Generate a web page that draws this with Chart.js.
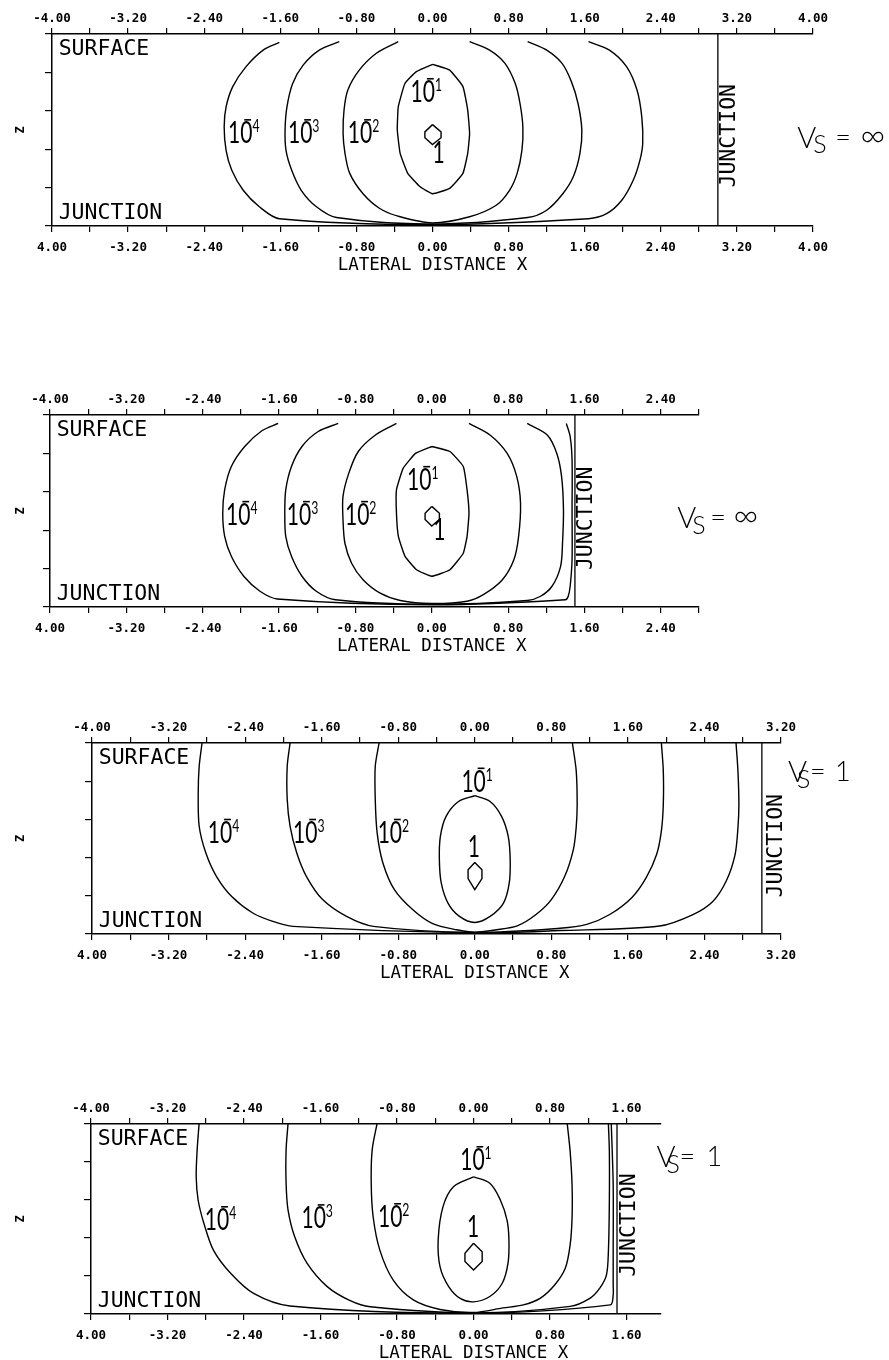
<!DOCTYPE html>
<html>
<head>
<meta charset="utf-8">
<script src="https://cdn.jsdelivr.net/npm/chart.js@4.4.1/dist/chart.umd.min.js"></script>
<style>
    html, body { margin: 0; padding: 0; background: #fff; overflow: hidden; }
    body { width: 889px; height: 1360px; position: relative; }
    .panel { position: absolute; left: 0; width: 889px; }
</style>
</head>
<body>
<div class="panel" id="wrap1"><canvas id="c1"></canvas></div>
<div class="panel" id="wrap2"><canvas id="c2"></canvas></div>
<div class="panel" id="wrap3"><canvas id="c3"></canvas></div>
<div class="panel" id="wrap4"><canvas id="c4"></canvas></div>
<script>
// Tick labels (lateral distance X); the bottom scale prints "4.00" at the left end
const xLabelValues = [-4, -3.2, -2.4, -1.6, -0.8, 0, 0.8, 1.6, 2.4, 3.2, 4];
const topLabels = ['-4.00', '-3.20', '-2.40', '-1.60', '-0.80', '0.00', '0.80', '1.60', '2.40', '3.20', '4.00'];
const bottomLabels = ['4.00', '-3.20', '-2.40', '-1.60', '-0.80', '0.00', '0.80', '1.60', '2.40', '3.20', '4.00'];

// x ranges of the four panels and junction position
const xMax = [4, 2.8, 3.2, 1.96];
const junctionX = [3.0, 1.5, 3.0, 1.5];
const vsText = ['= \u221E', '= \u221E', '= 1', '= 1'];

// Contours [x, z]  (z = 0 at surface, 5 at junction)
// Panel 1 : Vs = inf, junction at 3.0
const p1_e4 = [[-1.61,0.22],[-1.78,0.42],[-1.96,0.85],[-2.10,1.37],[-2.17,1.90],[-2.19,2.42],[-2.17,3.03],[-2.11,3.55],[-1.99,4.07],[-1.82,4.50],[-1.61,4.81],
    [0,4.96],[1.64,4.81],[1.83,4.68],[1.99,4.33],[2.11,3.81],[2.18,3.29],[2.21,2.85],[2.20,2.16],[2.15,1.46],[2.04,0.85],[1.86,0.42],[1.64,0.20]];
const p1_e3 = [[-0.98,0.20],[-1.19,0.42],[-1.36,0.81],[-1.47,1.29],[-1.53,1.90],[-1.55,2.50],[-1.54,3.03],[-1.48,3.55],[-1.38,4.07],[-1.22,4.50],[-1.01,4.78],
    [0,4.95],[1.00,4.78],[1.20,4.59],[1.37,4.16],[1.48,3.72],[1.55,3.11],[1.57,2.50],[1.53,1.81],[1.46,1.24],[1.36,0.76],[1.20,0.42],[1.00,0.20]];
const p1_e2 = [[-0.36,0.20],[-0.59,0.50],[-0.77,0.94],[-0.89,1.46],[-0.93,1.98],[-0.94,2.59],[-0.92,3.11],[-0.87,3.63],[-0.73,4.16],[-0.55,4.55],[-0.34,4.76],
    [0,4.92],[0.39,4.76],[0.67,4.46],[0.81,4.07],[0.89,3.63],[0.94,3.03],[0.95,2.42],[0.92,1.81],[0.87,1.29],[0.76,0.76],[0.60,0.42],[0.39,0.20]];
const p1_e1 = [[0,0.79],[-0.17,0.98],[-0.29,1.29],[-0.36,1.90],[-0.37,2.50],[-0.34,3.11],[-0.26,3.63],[-0.13,3.98],[0,4.16],
    [0.18,4.02],[0.32,3.63],[0.37,3.11],[0.39,2.59],[0.37,1.98],[0.32,1.37],[0.18,0.94],[0,0.79]];
const p1_one = [[0,2.36],[-0.08,2.55],[-0.08,2.70],[0,2.88],[0.09,2.70],[0.09,2.55],[0,2.36]];

// Panel 2 : Vs = inf, junction at 1.5
const p2_e4 = [[-1.61,0.22],[-1.78,0.41],[-1.96,0.82],[-2.10,1.34],[-2.17,1.95],[-2.19,2.56],[-2.17,3.16],[-2.10,3.68],[-1.97,4.20],[-1.80,4.59],[-1.62,4.79],
    [0,4.94],[1.40,4.81],[1.43,4.72],[1.45,4.46],[1.47,3.77],[1.47,2.47],[1.47,1.17],[1.45,0.56],[1.41,0.22]];
const p2_e3 = [[-0.98,0.22],[-1.19,0.43],[-1.36,0.82],[-1.47,1.34],[-1.53,1.95],[-1.54,2.56],[-1.53,3.16],[-1.47,3.68],[-1.36,4.20],[-1.21,4.59],[-1.01,4.81],
    [0,4.93],[1.00,4.83],[1.14,4.72],[1.26,4.46],[1.35,3.94],[1.37,3.34],[1.38,2.47],[1.36,1.60],[1.31,1.00],[1.21,0.52],[1.00,0.22]];
const p2_e2 = [[-0.37,0.22],[-0.59,0.52],[-0.77,0.95],[-0.87,1.52],[-0.93,2.12],[-0.93,2.73],[-0.91,3.34],[-0.84,3.86],[-0.72,4.29],[-0.54,4.64],[-0.33,4.83],
    [0,4.91],[0.37,4.85],[0.54,4.68],[0.74,4.29],[0.86,3.77],[0.91,3.16],[0.93,2.30],[0.89,1.60],[0.79,1.00],[0.61,0.52],[0.39,0.22]];
const p2_e1 = [[0,0.82],[-0.17,1.00],[-0.30,1.39],[-0.37,1.95],[-0.37,2.56],[-0.35,3.16],[-0.28,3.68],[-0.16,4.03],[0,4.20],
    [0.19,4.03],[0.33,3.60],[0.37,3.16],[0.39,2.56],[0.37,1.95],[0.33,1.34],[0.19,0.95],[0,0.82]];
const p2_one = [[0,2.38],[-0.07,2.56],[-0.07,2.72],[0,2.89],[0.08,2.72],[0.08,2.56],[0,2.38]];

// Panel 3 : Vs = 1, junction at 3.0
const p3_e4 = [[-2.85,0],[-2.88,0.61],[-2.89,1.31],[-2.88,2.18],[-2.81,2.88],[-2.70,3.49],[-2.54,4.02],[-2.32,4.45],[-2.11,4.67],[-1.90,4.80],
    [0,4.97],[0.89,4.91],[1.93,4.79],[2.28,4.49],[2.49,4.14],[2.63,3.60],[2.72,2.92],[2.75,2.22],[2.76,1.61],[2.75,0.73],[2.73,0]];
const p3_e3 = [[-1.93,0],[-1.96,0.61],[-1.96,1.48],[-1.93,2.18],[-1.86,2.88],[-1.76,3.49],[-1.59,4.10],[-1.34,4.54],[-1.06,4.80],
    [0,4.96],[0.89,4.85],[1.17,4.75],[1.41,4.49],[1.64,4.05],[1.79,3.53],[1.90,2.92],[1.95,2.30],[1.97,1.61],[1.97,0.73],[1.95,0]];
const p3_e2 = [[-1.00,0],[-1.04,0.61],[-1.04,1.48],[-1.02,2.36],[-0.96,3.14],[-0.84,3.84],[-0.65,4.36],[-0.44,4.73],[-0.19,4.89],
    [0,4.95],[0.23,4.89],[0.45,4.78],[0.64,4.49],[0.80,4.10],[0.94,3.49],[1.03,2.79],[1.06,2.20],[1.07,1.61],[1.06,0.73],[1.02,0]];
const p3_e1 = [[0,1.38],[-0.17,1.53],[-0.30,1.92],[-0.36,2.45],[-0.37,3.06],[-0.35,3.67],[-0.28,4.19],[-0.16,4.54],[0,4.70],
    [0.16,4.54],[0.30,4.19],[0.36,3.67],[0.37,3.06],[0.35,2.45],[0.28,1.92],[0.16,1.53],[0,1.38]];
const p3_one = [[0,3.13],[-0.07,3.32],[-0.07,3.55],[0,3.84],[0.075,3.55],[0.075,3.32],[0,3.13]];

// Panel 4 : Vs = 1, junction at 1.5
const p4_e4 = [[-2.87,0],[-2.89,0.68],[-2.90,1.39],[-2.88,2.00],[-2.82,2.61],[-2.72,3.32],[-2.54,3.93],[-2.30,4.46],[-1.92,4.79],
    [0,4.98],[1.43,4.76],[1.46,4.50],[1.46,4.23],[1.46,3.35],[1.46,1.60],[1.44,0]];
const p4_e3 = [[-1.94,0],[-1.96,0.68],[-1.96,1.56],[-1.94,2.26],[-1.87,2.97],[-1.74,3.67],[-1.53,4.28],[-1.29,4.65],[-1.08,4.81],
    [0,4.97],[1.01,4.80],[1.22,4.58],[1.32,4.32],[1.39,3.97],[1.41,3.35],[1.42,2.03],[1.42,0.72],[1.41,0]];
const p4_e2 = [[-1.01,0],[-1.06,0.68],[-1.07,1.56],[-1.05,2.44],[-0.98,3.32],[-0.84,4.11],[-0.63,4.63],[-0.35,4.88],
    [0,4.96],[0.31,4.84],[0.52,4.76],[0.70,4.58],[0.85,4.23],[0.96,3.79],[1.01,3.18],[1.03,2.47],[1.03,1.60],[1.01,0.72],[0.98,0]];
const p4_e1 = [[0,1.39],[-0.21,1.65],[-0.32,2.18],[-0.37,3.05],[-0.35,3.76],[-0.26,4.28],[-0.14,4.59],[0,4.68],
    [0.17,4.54],[0.30,4.19],[0.36,3.67],[0.37,3.05],[0.35,2.53],[0.28,2.00],[0.17,1.56],[0,1.39]];
const p4_one = [[0,3.14],[-0.09,3.40],[-0.09,3.62],[0,3.84],[0.09,3.62],[0.09,3.36],[0,3.14]];

const contours = [
    [p1_e4, p1_e3, p1_e2, p1_e1, p1_one],
    [p2_e4, p2_e3, p2_e2, p2_e1, p2_one],
    [p3_e4, p3_e3, p3_e2, p3_e1, p3_one],
    [p4_e4, p4_e3, p4_e2, p4_e1, p4_one]
];

// Label anchors [x, z] per panel: 10^-4, 10^-3, 10^-2, 10^-1, 1
const labelPos = [
    [[-2.15,2.84],[-1.52,2.84],[-0.89,2.84],[-0.23,1.77],[0.0,3.36]],
    [[-2.155,2.86],[-1.52,2.86],[-0.91,2.86],[-0.26,1.95],[0.015,3.25]],
    [[-2.79,2.61],[-1.90,2.61],[-1.015,2.61],[-0.14,1.27],[-0.074,2.98]],
    [[-2.81,2.79],[-1.80,2.74],[-1.0,2.71],[-0.14,1.21],[-0.068,2.97]]
];
const exponents = ['4', '3', '2', '1'];

// Page layout of each panel (pixels)
const layout = [
    { plotLeft: 52, plotRight: 813, plotTop: 34, plotBottom: 226, vs: [3.834, 2.97], vsOff: [16, 5, 38, 63], jLabel: [3.125, 2.65], e1Tension: 0.12 },
    { plotLeft: 50, plotRight: 699, plotTop: 415, plotBottom: 607, vs: [2.572, 2.94], vsOff: [15, 6, 33, 56], jLabel: [1.624, 2.69], e1Tension: 0.12 },
    { plotLeft: 92, plotRight: 781, plotTop: 743, plotBottom: 934, vs: [3.273, 1.02], vsOff: [9, 6, 22, 47], jLabel: [3.149, 2.69], e1Tension: 0.35 },
    { plotLeft: 91, plotRight: 661, plotTop: 1124, plotBottom: 1314, vs: [1.914, 1.12], vsOff: [10, 6, 23, 50], jLabel: [1.63, 2.66], e1Tension: 0.35 }
];

const TOP_H = 34, BOTTOM_H = 48;
const INK = '#000';
const thin = "Lato, 'Noto Sans', sans-serif";
const mono = "'DejaVu Sans Mono', 'Liberation Mono', monospace";

function notesPlugin(i) {
    const L = layout[i];
    return {
        id: 'notes' + i,
        afterDraw(chart) {
            const ctx = chart.ctx;
            const X = v => chart.scales.x.getPixelForValue(v);
            const Y = v => chart.scales.y.getPixelForValue(v);
            ctx.save();
            ctx.fillStyle = INK;
            ctx.textBaseline = 'alphabetic';
            ctx.textAlign = 'left';

            // contour labels
            labelPos[i].forEach((p, k) => {
                const px = X(p[0]), py = Y(p[1]);
                ctx.save();
                ctx.translate(px, py);
                ctx.scale(0.68, 1);
                ctx.font = '31px ' + thin;
                if (k < 4) {
                    ctx.fillText('10', 0, 0);
                    const w = ctx.measureText('10').width;
                    ctx.fillRect(w - 12, -24, 10, 1.6);
                    ctx.font = '18px ' + thin;
                    ctx.fillText(exponents[k], w, -11);
                } else {
                    ctx.fillText('1', 0, 0);
                }
                ctx.restore();
            });

            // SURFACE / JUNCTION
            ctx.font = '21.5px ' + mono;
            ctx.fillText('SURFACE', X(-3.93), Y(0.54));
            ctx.fillText('JUNCTION', X(-3.93), Y(4.82));

            // vertical JUNCTION
            ctx.save();
            ctx.translate(X(L.jLabel[0]), Y(L.jLabel[1]));
            ctx.rotate(-Math.PI / 2);
            ctx.textAlign = 'center';
            ctx.textBaseline = 'middle';
            ctx.fillText('JUNCTION', 0, 0);
            ctx.restore();

            // Vs label
            const vx = X(L.vs[0]), vy = Y(L.vs[1]);
            const o = L.vsOff;
            ctx.font = '300 29px ' + thin;
            ctx.fillText('V', vx, vy);
            ctx.font = '300 25px ' + thin;
            ctx.fillText('S', vx + o[0], vy + o[1]);
            ctx.font = '300 27px ' + thin;
            const parts = vsText[i].split(' ');
            ctx.fillText(parts[0], vx + o[2], vy - 1);
            ctx.font = (parts[1] === '1' ? '300 27px ' : '300 34px ') + thin;
            ctx.fillText(parts[1], vx + o[3], vy - 1);

            // axis title centred on x = 0
            ctx.font = '17.5px ' + mono;
            ctx.textAlign = 'center';
            ctx.fillText('LATERAL DISTANCE X', X(0), chart.chartArea.bottom + 44);
            ctx.restore();
        }
    };
}

function xScale(i, position, labels) {
    return {
        type: 'linear',
        position: position,
        min: -4,
        max: xMax[i],
        ticks: {
            stepSize: 0.4,
            includeBounds: false,
            autoSkip: false,
            maxRotation: 0,
            minRotation: 0,
            padding: position === 'top' ? 2 : 8,
            color: INK,
            font: { family: mono, size: 12.5, weight: 'bold' },
            callback: function(value) {
                const k = xLabelValues.findIndex(v => Math.abs(v - value) < 1e-6);
                return k >= 0 ? labels[k] : '';
            }
        },
        grid: { drawOnChartArea: false, drawTicks: true, tickLength: 6, color: INK, lineWidth: 1.2 },
        border: { display: true, color: INK, width: 1.5 },
        afterFit: function(scale) { scale.height = position === 'top' ? TOP_H : BOTTOM_H; }
    };
}

function buildPanel(i) {
    const L = layout[i];
    const wrap = document.getElementById('wrap' + (i + 1));
    const canvas = document.getElementById('c' + (i + 1));
    const h = (L.plotBottom - L.plotTop) + TOP_H + BOTTOM_H;
    wrap.style.top = (L.plotTop - TOP_H) + 'px';
    canvas.width = 889;
    canvas.height = h;

    const toXY = arr => arr.map(p => ({ x: p[0], y: p[1] }));
    const datasets = contours[i].map((c, k) => ({
        data: toXY(c),
        showLine: true,
        borderColor: INK,
        borderWidth: 1.4,
        pointRadius: 0,
        fill: false,
        tension: k === 4 ? 0 : (k === 3 ? L.e1Tension : 0.3)
    }));
    datasets.push({
        data: [{ x: junctionX[i], y: 0 }, { x: junctionX[i], y: 5 }],
        showLine: true,
        borderColor: INK,
        borderWidth: 1.3,
        pointRadius: 0,
        tension: 0
    });

    new Chart(canvas.getContext('2d'), {
        type: 'scatter',
        data: { datasets: datasets },
        options: {
            responsive: false,
            animation: false,
            events: [],
            layout: { padding: { left: 0, top: 0, bottom: 0, right: 889 - L.plotRight } },
            plugins: { legend: { display: false }, tooltip: { enabled: false } },
            scales: {
                x: xScale(i, 'bottom', bottomLabels),
                x2: xScale(i, 'top', topLabels),
                y: {
                    type: 'linear',
                    min: 0,
                    max: 5,
                    reverse: true,
                    ticks: { stepSize: 1, callback: () => '' },
                    grid: { drawOnChartArea: false, drawTicks: true, tickLength: 7, color: INK, lineWidth: 1.2 },
                    border: { display: true, color: INK, width: 1.5 },
                    title: {
                        display: true,
                        text: 'Z',
                        color: INK,
                        font: { family: mono, size: 12, weight: 'bold' },
                        padding: { top: 14, bottom: 0 }
                    },
                    afterFit: function(scale) { scale.width = L.plotLeft; }
                }
            }
        },
        plugins: [notesPlugin(i)]
    });
}

document.addEventListener('DOMContentLoaded', function() {
    for (let i = 0; i < 4; i++) buildPanel(i);
});
</script>
</body>
</html>
